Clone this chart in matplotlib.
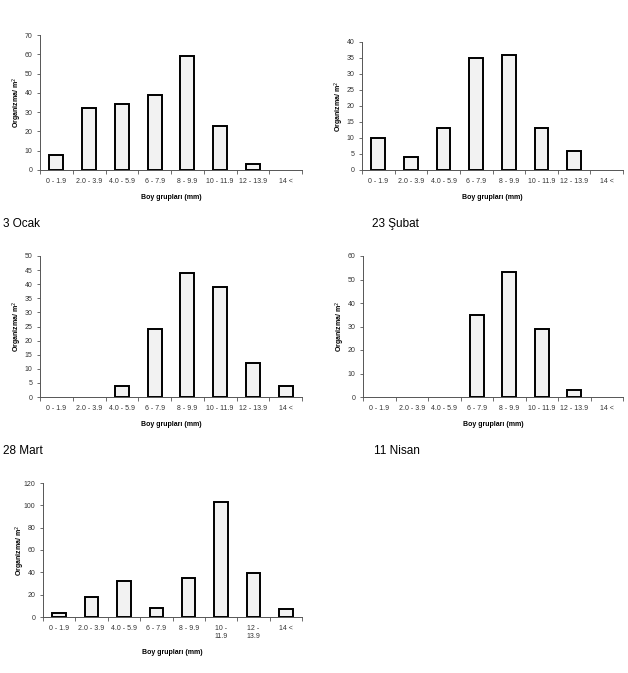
import matplotlib
matplotlib.use("Agg")
import matplotlib.pyplot as plt
import numpy as np

plt.rcParams['font.family'] = ['Liberation Sans', 'DejaVu Sans']

categories = ["0 - 1.9", "2.0 - 3.9", "4.0 - 5.9", "6 - 7.9", "8 - 9.9", "10 - 11.9", "12 - 13.9", "14 <"]
categories_wrapped = ["0 - 1.9", "2.0 - 3.9", "4.0 - 5.9", "6 - 7.9", "8 - 9.9", "10 -\n11.9", "12 -\n13.9", "14 <"]

ocak = [8, 32, 34, 39, 59, 23, 3, 0]
subat = [10, 4, 13, 35, 36, 13, 6, 0]
mart = [0, 0, 4, 24, 44, 39, 12, 4]
nisan = [0, 0, 0, 35, 53, 29, 3, 0]
mayis = [4, 18, 32, 8, 35, 103, 39, 7]

titles = ["3 Ocak", "23 Şubat", "28 Mart", "11 Nisan"]

W, H = 628, 673
fig = plt.figure(figsize=(W / 100, H / 100), dpi=100)

def px_axes(x0, y0, x1, y1):
    ax = fig.add_axes([x0 / W, 1 - y1 / H, (x1 - x0) / W, (y1 - y0) / H])
    ax._wpx = x1 - x0
    return ax

def draw(ax, vals, ymax, ystep, labels):
    x = np.arange(len(vals))
    lws = [1.4 if v > 0 else 0 for v in vals]
    ax.bar(x, vals, width=0.42, color="#f2f2f2", edgecolor="black", linewidth=lws, zorder=3)
    ax.set_xlim(-0.5, len(vals) - 0.5)
    ax.set_ylim(0, ymax)
    ax.set_yticks(np.arange(0, ymax + 0.1, ystep))
    ax.set_xticks(x)
    ax.set_xticklabels(labels, fontsize=5, color="#333333")
    ax.tick_params(axis='x', length=0, pad=6)
    ax.set_xticks(np.arange(-0.5, len(vals), 1), minor=True)
    ax.tick_params(axis='x', which='minor', length=3, width=0.6, color="#555555")
    ax.tick_params(axis='y', labelsize=5, length=2.5, width=0.6, color="#555555", labelcolor="#333333", pad=3)
    for s in ['top', 'right']:
        ax.spines[s].set_visible(False)
    for s in ['left', 'bottom']:
        ax.spines[s].set_linewidth(0.7)
        ax.spines[s].set_color("#555555")
    ax.set_ylabel("Organizma/ m$^2$", fontsize=5, fontweight='bold')
    ax.yaxis.set_label_coords(-16 / ax._wpx, 0.5)
    ax.set_xlabel("Boy grupları (mm)", fontsize=5, fontweight='bold', labelpad=6)

ax1 = px_axes(40, 35, 302, 170)
draw(ax1, ocak, 70, 10, categories)
ax2 = px_axes(362, 42, 623, 170)
draw(ax2, subat, 40, 5, categories)
ax3 = px_axes(40, 256, 302, 397)
draw(ax3, mart, 50, 5, categories)
ax4 = px_axes(363, 256, 623, 397)
draw(ax4, nisan, 60, 10, categories)
ax5 = px_axes(43, 483, 302, 617)
draw(ax5, mayis, 120, 20, categories_wrapped)

fig.text(3 / W, 1 - 224 / H, titles[0], fontsize=8.5, va='center', ha='left')
fig.text(372 / W, 1 - 224 / H, titles[1], fontsize=8.5, va='center', ha='left')
fig.text(3 / W, 1 - 451 / H, titles[2], fontsize=8.5, va='center', ha='left')
fig.text(374 / W, 1 - 451 / H, titles[3], fontsize=8.5, va='center', ha='left')

fig.savefig("out.png", dpi=100, facecolor="white")
